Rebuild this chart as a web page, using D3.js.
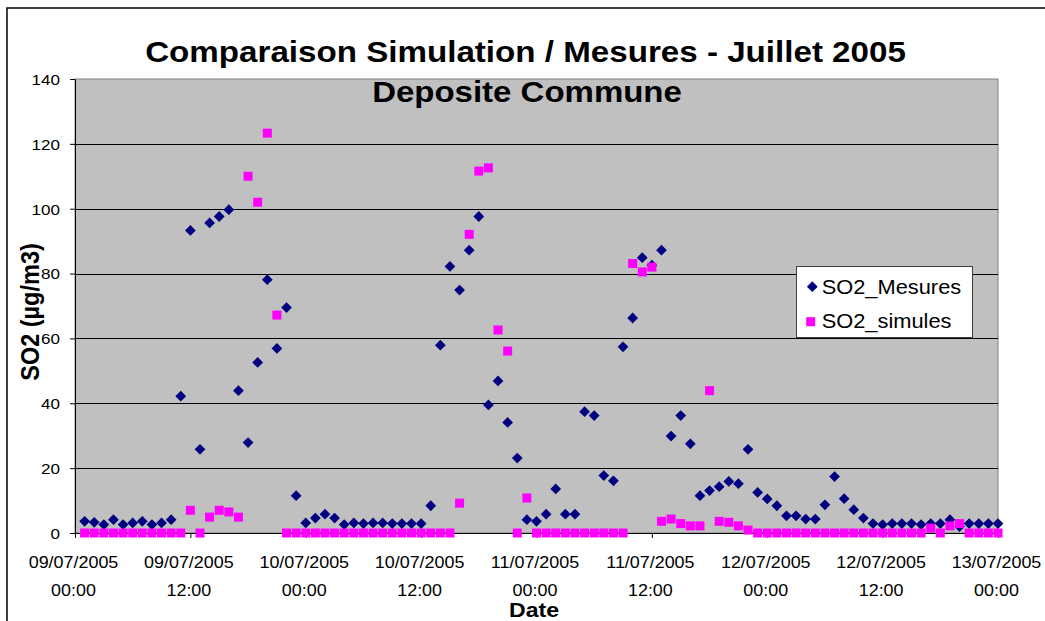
<!DOCTYPE html>
<html>
<head>
<meta charset="utf-8">
<script src="https://cdn.jsdelivr.net/npm/d3@7"></script>
<style>
  html, body { margin: 0; padding: 0; background: #fff; }
  svg text { font-family: "Liberation Sans", Arial, sans-serif; fill: #000; }
</style>
</head>
<body>
<div id="chart"></div>
<script>
// hourly samples, 09/07/2005 01:00 .. 13/07/2005 00:00
const startDate = Date.UTC(2005, 6, 9, 0, 0);
const endDate = Date.UTC(2005, 6, 13, 0, 0);
const firstHour = 1;

const so2Mesures = [
  3.6, 3.3, 2.6, 4.1, 2.6, 3.1, 3.6, 2.6, 3.1, 4.1, 42.2, 93.3,
  25.8, 95.6, 97.6, 99.7, 43.9, 27.9, 52.6, 78.1, 56.9, 69.5, 11.5, 3.1,
  4.6, 5.8, 4.6, 2.6, 3.1, 2.9, 3.1, 3.1, 2.9, 2.9, 2.9, 2.9,
  8.4, 57.9, 82.2, 74.9, 87.2, 97.6, 39.5, 46.9, 34.1, 23.1, 4.1, 3.6,
  5.8, 13.6, 5.8, 5.8, 37.4, 36.2, 17.7, 16.1, 57.4, 66.3, 84.9, 82.6,
  87.2, 29.9, 36.2, 27.5, 11.5, 13.1, 14.3, 15.9, 15.2, 25.8, 12.5, 10.5,
  8.4, 5.3, 5.3, 4.3, 4.3, 8.7, 17.4, 10.6, 7.2, 4.6, 2.9, 2.6,
  2.9, 2.9, 2.9, 2.6, 2.9, 2.9, 4.1, 2.0, 2.9, 2.9, 2.9, 2.9
];

const so2Simules = [
  0, 0, 0, 0, 0, 0, 0, 0, 0, 0, 0, 7.0,
  0, 4.9, 7.0, 6.5, 4.9, 110, 102, 123.3, 67.2, 0, 0, 0,
  0, 0, 0, 0, 0, 0, 0, 0, 0, 0, 0, 0,
  0, 0, 0, 9.2, 92.1, 111.6, 112.6, 62.6, 56.1, 0, 10.8, 0,
  0, 0, 0, 0, 0, 0, 0, 0, 0, 83.1, 80.5, 82.0,
  3.6, 4.3, 2.9, 2.2, 2.2, 43.9, 3.6, 3.3, 2.2, 0.9, 0, 0,
  0, 0, 0, 0, 0, 0, 0, 0, 0, 0, 0, 0,
  0, 0, 0, 0, 1.5, 0, 2.2, 2.9, 0, 0, 0, 0
];

const yTicks = [0, 20, 40, 60, 80, 100, 120, 140];
const seriesNames = ['SO2_Mesures', 'SO2_simules'];
const titleLines = ['Comparaison Simulation / Mesures - Juillet 2005', 'Deposite Commune'];

const width = 1045, height = 621;
const plot = { left: 75, top: 79, right: 998, bottom: 533 };
const sx = 1.1; // text in the source is drawn slightly wide

const svg = d3.select('#chart').append('svg')
  .attr('width', width)
  .attr('height', height);

const x = d3.scaleUtc()
  .domain([startDate, endDate])
  .range([plot.left, plot.right]);

const y = d3.scaleLinear()
  .domain([0, 140])
  .range([plot.bottom, plot.top]);

const hourDate = i => new Date(startDate + (firstHour + i) * 3600 * 1000);

function label(g, tx, ty, str, opts) {
  const t = g.append('text')
    .attr('transform', `translate(${tx},${ty}) scale(${opts.sx || sx},1)` + (opts.rotate ? ` rotate(${opts.rotate})` : ''))
    .attr('text-anchor', opts.anchor || 'middle')
    .attr('font-size', opts.size)
    .attr('font-weight', opts.bold ? 'bold' : 'normal')
    .text(str);
  return t;
}

// outer frame
svg.append('path')
  .attr('d', `M7,${height} V8 H${width}`)
  .attr('fill', 'none')
  .attr('stroke', '#000')
  .attr('stroke-width', 1.5);

// plot background
svg.append('rect')
  .attr('x', plot.left)
  .attr('y', plot.top)
  .attr('width', plot.right - plot.left)
  .attr('height', plot.bottom - plot.top)
  .attr('fill', '#c0c0c0')
  .attr('stroke', '#808080')
  .attr('stroke-width', 1);

// gridlines
svg.append('g')
  .selectAll('line')
  .data(yTicks.filter(d => d > 0 && d < 140))
  .enter()
  .append('line')
  .attr('x1', plot.left)
  .attr('x2', plot.right)
  .attr('y1', d => Math.round(y(d)) + 0.5)
  .attr('y2', d => Math.round(y(d)) + 0.5)
  .attr('stroke', '#000')
  .attr('stroke-width', 1);

// y axis
const yAxis = svg.append('g')
  .attr('transform', `translate(${plot.left},0)`)
  .call(d3.axisLeft(y).tickValues(yTicks).tickSize(5).tickSizeOuter(0).tickPadding(10));
yAxis.select('.domain').attr('stroke', '#000');
yAxis.selectAll('.tick line').attr('stroke', '#000');
yAxis.selectAll('.tick text')
  .attr('x', 0)
  .attr('dy', '0.35em')
  .attr('transform', `translate(-15,0) scale(${sx},1)`)
  .attr('font-size', 15.5)
  .attr('font-family', '"Liberation Sans", Arial, sans-serif');

// x axis
const xTicks = d3.utcHour.every(12).range(new Date(startDate), new Date(endDate + 1));
const xAxis = svg.append('g')
  .attr('transform', `translate(0,${plot.bottom})`)
  .call(d3.axisBottom(x).tickValues(xTicks).tickSize(5).tickSizeOuter(0).tickFormat(''));
xAxis.select('.domain').attr('stroke', '#000');
xAxis.selectAll('.tick line').attr('stroke', '#000');
const fmtDay = d3.utcFormat('%d/%m/%Y');
const fmtTime = d3.utcFormat('%H:%M');
xAxis.selectAll('.tick').each(function(d) {
  const g = d3.select(this);
  label(g, -2, 35, fmtDay(d), { size: 16, sx: 1.12 });
  label(g, -2, 62.5, fmtTime(d), { size: 16, sx: 1.12 });
});

// series
const diamond = d3.symbol().type(d3.symbolSquare).size(58);
svg.append('g')
  .selectAll('path')
  .data(so2Mesures)
  .enter()
  .append('path')
  .attr('d', diamond)
  .attr('transform', (d, i) => `translate(${x(hourDate(i))},${y(d)}) rotate(45)`)
  .attr('fill', '#000080');

svg.append('g')
  .selectAll('rect')
  .data(so2Simules)
  .enter()
  .append('rect')
  .attr('x', (d, i) => x(hourDate(i)) - 4.5)
  .attr('y', d => y(d) - 4.5)
  .attr('width', 9)
  .attr('height', 9)
  .attr('fill', '#ff00ff');

// titles
label(svg, 525.5, 61.5, titleLines[0], { size: 30, bold: true, sx: 1.105 });
label(svg, 527, 101.5, titleLines[1], { size: 30, bold: true, sx: 1.1 });
label(svg, 534, 617, 'Date', { size: 21, bold: true });
label(svg, 39, 312, 'SO2 (µg/m3)', { size: 23.5, bold: true, rotate: -90 });

// legend
const legend = svg.append('g');
legend.append('rect')
  .attr('x', 796.5)
  .attr('y', 266.5)
  .attr('width', 176)
  .attr('height', 71)
  .attr('fill', '#fff')
  .attr('stroke', '#404040')
  .attr('stroke-width', 1);
legend.append('path')
  .attr('d', diamond)
  .attr('transform', 'translate(812.3,286.7) rotate(45)')
  .attr('fill', '#000080');
legend.append('rect')
  .attr('x', 806.2)
  .attr('y', 317.2)
  .attr('width', 9)
  .attr('height', 9)
  .attr('fill', '#ff00ff');
label(legend, 821.7, 294, seriesNames[0], { size: 19.5, anchor: 'start', sx: 1.12 });
label(legend, 821.7, 328.3, seriesNames[1], { size: 19.5, anchor: 'start', sx: 1.12 });
</script>
</body>
</html>
